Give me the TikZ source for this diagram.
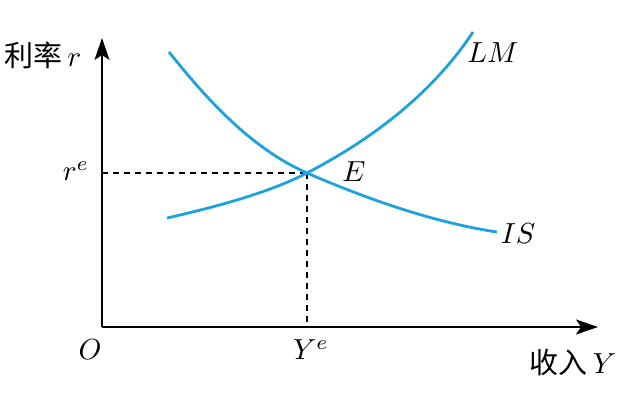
\documentclass[tikz,border=0pt]{standalone}
\usepackage{fontspec}
\newfontfamily\cjk{Noto Sans CJK SC}
\usetikzlibrary{arrows.meta}
\definecolor{curveblue}{RGB}{28,163,219}
\newcommand{\bigtxt}[1]{\scalebox{2.9}{#1}}
\tikzset{
	axisline/.style={line width=2pt, -{Stealth[length=22pt,width=15pt,inset=5pt]}},
	curveline/.style={line width=2.8pt, color=curveblue},
	guideline/.style={line width=1.4pt, dash pattern=on 6pt off 5pt},
	lbl/.style={inner sep=0pt}
}

\begin{document}
\begin{tikzpicture}[x=1pt, y=-1pt]
			%%%%% START %%%%%
			\useasboundingbox (0, 0) rectangle (622, 407);
			
			\coordinate (O) at (102, 327);
			\coordinate (ytip) at (102, 38);
			\coordinate (xtip) at (598, 327);
			\coordinate (E) at (307, 173);
			\coordinate (rE) at (102, 173);
			\coordinate (YE) at (307, 327);
			
			\draw[axisline] (O) -- (ytip);
			\draw[axisline] (O) -- (xtip);
			
			\draw[guideline] (rE) -- (E);
			\draw[guideline] (E) -- (YE);
			
			% IS
			\draw[curveline] (169, 52) .. controls (205, 97) and (250, 148) .. (E)
				.. controls (360, 196) and (430, 222) .. (497, 232);
			% LM
			\draw[curveline] (167, 218) .. controls (220, 206) and (270, 192) .. (E)
				.. controls (380, 135) and (436, 88) .. (473, 32);
			
			\node[lbl] (ylabel) at (43, 55) {\bigtxt{{\cjk 利率}$\,r$}};
			\node[lbl] (xlabel) at (573, 362) {\bigtxt{{\cjk 收入}$\,Y$}};
			\node[lbl] (olabel) at (90, 350) {\bigtxt{$O$}};
			\node[lbl] (relabel) at (76, 171) {\bigtxt{$r^{e}$}};
			\node[lbl] (yelabel) at (311, 350) {\bigtxt{$Y^{e}$}};
			\node[lbl] (elabel) at (354, 172) {\bigtxt{$E$}};
			\node[lbl] (lmlabel) at (493, 53) {\bigtxt{$LM$}};
			\node[lbl] (islabel) at (518, 234) {\bigtxt{$IS$}};
			%%%%% END %%%%%
\end{tikzpicture}
\end{document}
